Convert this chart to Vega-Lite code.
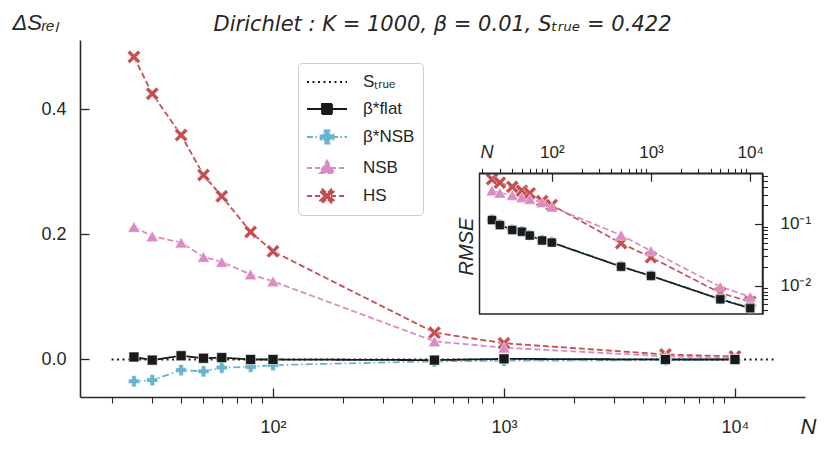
{
"$schema": "https://vega.github.io/schema/vega-lite/v6.json",
"width": 725, "height": 357,
"autosize": {"type": "none"},
"padding": {"left": 80, "top": 40, "right": 25, "bottom": 54},
"background": "white",
"title": {"text": "Dirichlet : K = 1000,   β = 0.01, Sₜᵣᵤₑ = 0.422", "frame": "group", "anchor": "middle", "offset": -41, "baseline": "alphabetic", "font": "DejaVu Sans", "fontSize": 21, "fontStyle": "italic", "fontWeight": "normal", "color": "#262626"},
"config": {"view": {"stroke": null}, "axis": {"grid": false, "labelFont": "Liberation Sans", "titleFont": "Liberation Sans", "labelColor": "#262626", "titleColor": "#262626", "domainColor": "#262626", "tickColor": "#262626", "labelFontSize": 17, "titleFontWeight": "normal", "labelFlush": false, "labelOverlap": false},
 "legend": {"orient": "none", "legendX": 218, "legendY": 23, "title": null, "padding": 8, "strokeColor": "#cccccc", "fillColor": "white", "cornerRadius": 4, "labelFont": "Liberation Sans", "labelFontSize": 17, "labelColor": "#262626", "symbolSize": 400, "symbolStrokeWidth": 1.8, "symbolOpacity": 1, "rowPadding": 8, "labelOffset": 35}},
"datasets": {
"pts": [
{"series":"S_true","N":20,"dS":0},
{"series":"S_true","N":15000,"dS":0},
{"series":"HS","N":25,"dS":0.484,"rmse":0.53},
{"series":"HS","N":30,"dS":0.425,"rmse":0.467},
{"series":"HS","N":40,"dS":0.359,"rmse":0.40},
{"series":"HS","N":50,"dS":0.295,"rmse":0.347},
{"series":"HS","N":60,"dS":0.261,"rmse":0.315},
{"series":"HS","N":80,"dS":0.204,"rmse":0.236},
{"series":"HS","N":100,"dS":0.173,"rmse":0.203},
{"series":"HS","N":500,"dS":0.043,"rmse":0.0487},
{"series":"HS","N":1000,"dS":0.026,"rmse":0.0288},
{"series":"HS","N":5000,"dS":0.008,"rmse":0.0076},
{"series":"HS","N":10000,"dS":0.005,"rmse":0.0055},
{"series":"NSB","N":25,"dS":0.212,"rmse":0.347},
{"series":"NSB","N":30,"dS":0.197,"rmse":0.32},
{"series":"NSB","N":40,"dS":0.187,"rmse":0.295},
{"series":"NSB","N":50,"dS":0.164,"rmse":0.271},
{"series":"NSB","N":60,"dS":0.156,"rmse":0.254},
{"series":"NSB","N":80,"dS":0.136,"rmse":0.225},
{"series":"NSB","N":100,"dS":0.125,"rmse":0.19},
{"series":"NSB","N":500,"dS":0.029,"rmse":0.066},
{"series":"NSB","N":1000,"dS":0.019,"rmse":0.0365},
{"series":"NSB","N":5000,"dS":0.005,"rmse":0.0096},
{"series":"NSB","N":10000,"dS":0.003,"rmse":0.0066},
{"series":"NSBstar","N":25,"dS":-0.035,"rmse":0.118},
{"series":"NSBstar","N":30,"dS":-0.033,"rmse":0.098},
{"series":"NSBstar","N":40,"dS":-0.017,"rmse":0.081},
{"series":"NSBstar","N":50,"dS":-0.019,"rmse":0.076},
{"series":"NSBstar","N":60,"dS":-0.013,"rmse":0.066},
{"series":"NSBstar","N":80,"dS":-0.012,"rmse":0.055},
{"series":"NSBstar","N":100,"dS":-0.009,"rmse":0.051},
{"series":"NSBstar","N":500,"dS":-0.003,"rmse":0.0206},
{"series":"NSBstar","N":1000,"dS":-0.002,"rmse":0.0146},
{"series":"NSBstar","N":5000,"dS":-0.001,"rmse":0.0061},
{"series":"NSBstar","N":10000,"dS":0.0,"rmse":0.0044},
{"series":"flat","N":25,"dS":0.004,"rmse":0.116},
{"series":"flat","N":30,"dS":-0.001,"rmse":0.096},
{"series":"flat","N":40,"dS":0.006,"rmse":0.080},
{"series":"flat","N":50,"dS":0.002,"rmse":0.075},
{"series":"flat","N":60,"dS":0.003,"rmse":0.065},
{"series":"flat","N":80,"dS":0.0,"rmse":0.054},
{"series":"flat","N":100,"dS":0.0,"rmse":0.050},
{"series":"flat","N":500,"dS":-0.001,"rmse":0.0203},
{"series":"flat","N":1000,"dS":0.001,"rmse":0.0144},
{"series":"flat","N":5000,"dS":0.0,"rmse":0.0060},
{"series":"flat","N":10000,"dS":0.0,"rmse":0.0043}
],
"frame": [{"N": 18.7, "N2": 13300, "rmse": 0.00347, "rmse2": 0.664}]
},
"resolve": {"scale": {"x": "independent", "y": "independent", "size": "independent", "shape": "independent", "strokeDash": "independent", "fill": "independent", "stroke": "independent"}},
"layer": [
{
"data": {"name": "pts"},
"encoding": {
"x": {"field": "N", "type": "quantitative", "scale": {"type": "log", "domain": [14.6, 20100], "nice": false},
 "axis": {"orient": "bottom", "values": [100, 1000, 10000], "tickSize": -9, "tickWidth": 1.3, "domainWidth": 1.6, "labelExpr": "datum.value == 100 ? '10²' : datum.value == 1000 ? '10³' : '10⁴'", "labelFontSize": 18, "labelBaseline": "alphabetic", "labelPadding": 44, "labelAlign": "center", "title": "N", "titleFontStyle": "italic", "titleFontSize": 22, "titleX": 720, "titleY": 36, "titleAlign": "left", "titleBaseline": "alphabetic", "titleAngle": 0}},
"y": {"field": "dS", "type": "quantitative", "scale": {"domain": [-0.06, 0.511], "nice": false, "zero": false},
 "axis": {"orient": "left", "values": [0, 0.2, 0.4], "format": ".1f", "tickSize": -9, "tickWidth": 1.3, "domainWidth": 1.6, "labelFontSize": 18, "labelPadding": 23, "title": "ΔSᵣₑₗ", "titleAngle": 0, "titleX": -68, "titleY": -11, "titleAlign": "left", "titleBaseline": "alphabetic", "titleFontSize": 22, "titleFontStyle": "italic"}}
},
"layer": [
{"mark": {"type": "line", "strokeWidth": 1.8},
 "encoding": {
  "color": {"field": "series", "type": "nominal", "scale": {"domain": ["S_true", "flat", "NSBstar", "NSB", "HS"], "range": ["#1a1a1a", "#1a1a1a", "#64B5CD", "#DA8BC3", "#C44E52"]}, "legend": null},
  "strokeDash": {"field": "series", "type": "nominal", "scale": {"domain": ["S_true", "flat", "NSBstar", "NSB", "HS"], "range": [[2, 3.5], [1, 0], [7, 3, 1.5, 3], [6, 3], [6, 3]]}, "legend": null}
 }},
{"transform": [{"filter": "datum.series !== 'S_true'"}],
 "mark": {"type": "point", "filled": true, "opacity": 1, "stroke": "white", "strokeWidth": 0.6},
 "encoding": {
  "color": {"field": "series", "type": "nominal", "legend": null},
  "shape": {"field": "series", "type": "nominal", "scale": {"domain": ["flat", "NSBstar", "NSB", "HS"], "range": ["square", "cross", "triangle-up", "M-0.6,-1L0,-0.4L0.6,-1L1,-0.6L0.4,0L1,0.6L0.6,1L0,0.4L-0.6,1L-1,0.6L-0.4,0L-1,-0.6Z"]}, "legend": null},
  "size": {"field": "series", "type": "nominal", "scale": {"domain": ["flat", "NSBstar", "NSB", "HS"], "range": [100, 180, 160, 190]}, "legend": null}
 }}
]
},
{
"data": {"name": "pts"},
"mark": {"type": "point", "opacity": 0},
"encoding": {
"x": {"field": "N", "type": "quantitative", "scale": {"type": "log", "domain": [14.6, 20100], "nice": false},
 "axis": {"orient": "bottom", "values": [20, 30, 40, 50, 60, 70, 80, 90, 200, 300, 400, 500, 600, 700, 800, 900, 2000, 3000, 4000, 5000, 6000, 7000, 8000, 9000], "tickSize": 6, "tickWidth": 1.1, "labels": false, "domain": false, "title": null}},
"y": {"field": "dS", "type": "quantitative", "scale": {"domain": [-0.06, 0.511], "nice": false, "zero": false}, "axis": null}
}
},
{
"data": {"name": "pts"},
"encoding": {
"x": {"field": "N", "type": "quantitative", "scale": {"type": "log", "domain": [18.7, 13300], "range": [399.5, 682.5], "nice": false},
 "axis": {"orient": "top", "offset": -133.3, "zindex": 2, "values": [100, 1000, 10000], "tickSize": -8, "tickWidth": 1.2, "domainWidth": 1.5, "labelExpr": "datum.value == 100 ? '10²' : datum.value == 1000 ? '10³' : '10⁴'", "labelFontSize": 17, "labelBaseline": "alphabetic", "labelPadding": 24, "labelAlign": "center", "title": "N", "titleFontStyle": "italic", "titleFontSize": 18, "titleX": 400, "titleY": -16, "titleAlign": "left", "titleBaseline": "alphabetic", "titleAngle": 0}},
"y": {"field": "rmse", "type": "quantitative", "scale": {"type": "log", "domain": [0.00347, 0.664], "range": [274, 133.3], "nice": false},
 "axis": {"orient": "right", "offset": -42.5, "zindex": 2, "values": [0.01, 0.1], "tickSize": -8, "tickWidth": 1.2, "domainWidth": 1.5, "labelExpr": "datum.value > 0.05 ? '10⁻¹' : '10⁻²'", "labelFontSize": 17, "labelPadding": 25.5, "labelBaseline": "middle", "labelAlign": "left", "title": "RMSE", "titleFontStyle": "italic", "titleFontSize": 20, "titleAngle": 270, "titleX": -296.5, "titleY": 206, "titleAlign": "center", "titleBaseline": "middle"}}
},
"layer": [
{"data": {"name": "frame"}, "mark": {"type": "rect", "fill": "white", "stroke": "#262626", "strokeWidth": 1.5},
 "encoding": {"x2": {"field": "N2"}, "y2": {"field": "rmse2"}}},
{"transform": [{"filter": "datum.series !== 'S_true'"}],
 "mark": {"type": "line", "strokeWidth": 1.7},
 "encoding": {
  "color": {"field": "series", "type": "nominal", "legend": null},
  "strokeDash": {"field": "series", "type": "nominal", "scale": {"domain": ["flat", "NSBstar", "NSB", "HS"], "range": [[1, 0], [7, 3, 1.5, 3], [6, 3], [6, 3]]}, "legend": null}
 }},
{"transform": [{"filter": "datum.series !== 'S_true'"}],
 "mark": {"type": "point", "filled": true, "opacity": 1, "stroke": "white", "strokeWidth": 0.4},
 "encoding": {
  "color": {"field": "series", "type": "nominal", "legend": null},
  "shape": {"field": "series", "type": "nominal", "scale": {"domain": ["flat", "NSBstar", "NSB", "HS"], "range": ["square", "cross", "triangle-up", "M-0.6,-1L0,-0.4L0.6,-1L1,-0.6L0.4,0L1,0.6L0.6,1L0,0.4L-0.6,1L-1,0.6L-0.4,0L-1,-0.6Z"]}, "legend": null},
  "size": {"field": "series", "type": "nominal", "scale": {"domain": ["flat", "NSBstar", "NSB", "HS"], "range": [80, 170, 120, 120]}, "legend": null}
 }}
]
},
{
"data": {"name": "frame"},
"mark": {"type": "point", "opacity": 0},
"encoding": {
"x": {"field": "N", "type": "quantitative", "scale": {"type": "log", "domain": [18.7, 13300], "range": [399.5, 682.5], "nice": false},
 "axis": {"orient": "top", "offset": -133.3, "zindex": 2, "values": [20, 30, 40, 50, 60, 70, 80, 90, 200, 300, 400, 500, 600, 700, 800, 900, 2000, 3000, 4000, 5000, 6000, 7000, 8000, 9000], "tickSize": 5, "tickWidth": 1.1, "labels": false, "domain": false, "title": null}},
"y": {"field": "rmse", "type": "quantitative", "scale": {"type": "log", "domain": [0.00347, 0.664], "range": [274, 133.3], "nice": false},
 "axis": {"orient": "right", "offset": -42.5, "zindex": 2, "values": [0.004, 0.005, 0.006, 0.007, 0.008, 0.009, 0.02, 0.03, 0.04, 0.05, 0.06, 0.07, 0.08, 0.09, 0.2, 0.3, 0.4, 0.5, 0.6], "tickSize": 5, "tickWidth": 1.1, "labels": false, "domain": false, "title": null}}
}
},
{
"data": {"name": "pts"},
"transform": [{"filter": "datum.N == 25 || (datum.series == 'S_true' && datum.N == 20)"}],
"mark": {"type": "point", "opacity": 0},
"encoding": {
 "fill": {"field": "series", "type": "nominal", "scale": {"domain": ["S_true", "flat", "NSBstar", "NSB", "HS"], "range": ["#1a1a1a", "#1a1a1a", "#64B5CD", "#DA8BC3", "#C44E52"]},
  "legend": {"orient": "none", "legendX": 218, "legendY": 23, "title": null, "labelExpr": "datum.value === 'S_true' ? 'Sₜᵣᵤₑ' : datum.value === 'flat' ? 'β*flat' : datum.value === 'NSBstar' ? 'β*NSB' : datum.value"}},
 "stroke": {"field": "series", "type": "nominal", "scale": {"domain": ["S_true", "flat", "NSBstar", "NSB", "HS"], "range": ["#1a1a1a", "#1a1a1a", "#64B5CD", "#DA8BC3", "#C44E52"]},
  "legend": {"orient": "none", "legendX": 218, "legendY": 23, "title": null, "labelExpr": "datum.value === 'S_true' ? 'Sₜᵣᵤₑ' : datum.value === 'flat' ? 'β*flat' : datum.value === 'NSBstar' ? 'β*NSB' : datum.value"}},
 "shape": {"field": "series", "type": "nominal", "scale": {"domain": ["S_true", "flat", "NSBstar", "NSB", "HS"], "range": ["M-1,0H3", "M-1,0H3M0.5,-0.5H1.5V0.5H0.5Z", "M-1,0H3M0.75,-0.65H1.25V-0.25H1.65V0.25H1.25V0.65H0.75V0.25H0.35V-0.25H0.75Z", "M-1,0H3M1,-0.75L1.72,0.5H0.28Z", "M-1,0H3M0.55,-0.7L1,-0.25L1.45,-0.7L1.7,-0.45L1.25,0L1.7,0.45L1.45,0.7L1,0.25L0.55,0.7L0.3,0.45L0.75,0L0.3,-0.45Z"]},
  "legend": {"orient": "none", "legendX": 218, "legendY": 23, "title": null, "labelExpr": "datum.value === 'S_true' ? 'Sₜᵣᵤₑ' : datum.value === 'flat' ? 'β*flat' : datum.value === 'NSBstar' ? 'β*NSB' : datum.value"}},
 "strokeDash": {"field": "series", "type": "nominal", "scale": {"domain": ["S_true", "flat", "NSBstar", "NSB", "HS"], "range": [[2, 3.5], [1, 0], [6, 2.5, 1.5, 2.5], [5, 3], [5, 3]]},
  "legend": {"orient": "none", "legendX": 218, "legendY": 23, "title": null, "labelExpr": "datum.value === 'S_true' ? 'Sₜᵣᵤₑ' : datum.value === 'flat' ? 'β*flat' : datum.value === 'NSBstar' ? 'β*NSB' : datum.value"}}
}
}
]
}
